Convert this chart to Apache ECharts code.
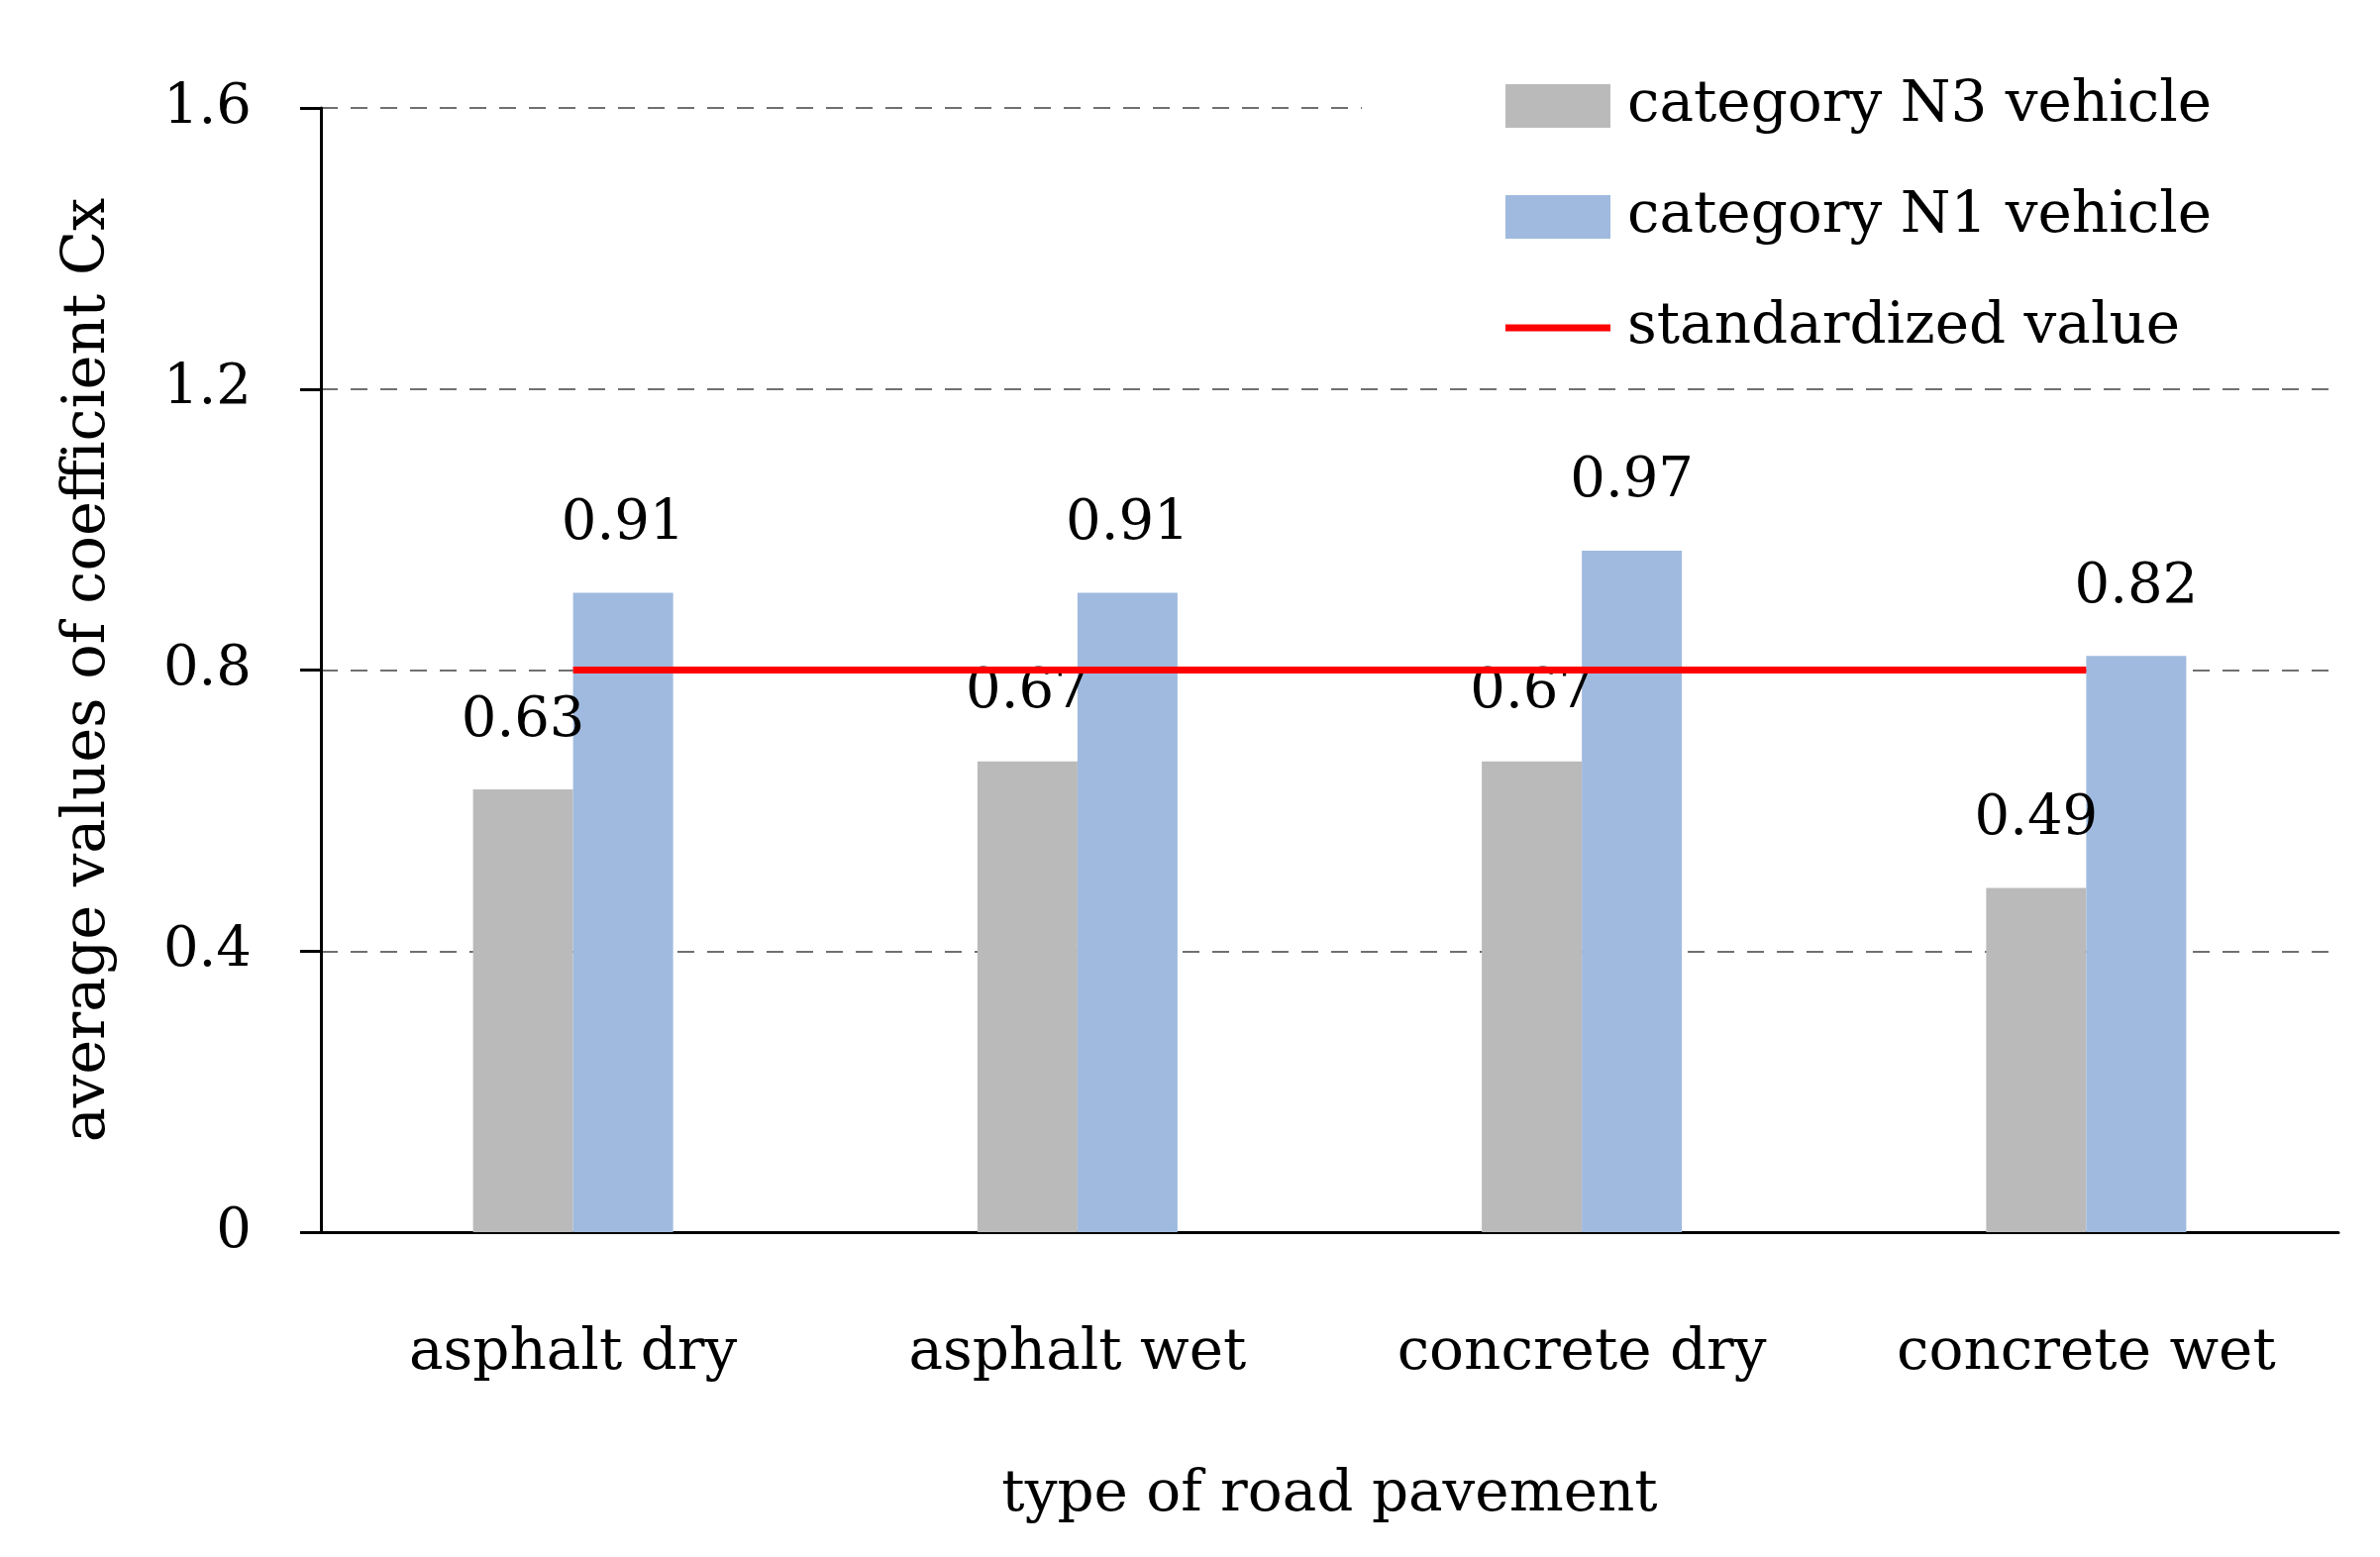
<!DOCTYPE html>
<html>
<head>
<meta charset="utf-8">
<script src="https://cdn.jsdelivr.net/npm/echarts@6/dist/echarts.min.js"></script>
<style>
html,body{margin:0;padding:0;background:#fff;}
#chart{width:2403px;height:1572px;}
</style>
</head>
<body>
<div id="chart"></div>
<script>
const categories = ['asphalt dry', 'asphalt wet', 'concrete dry', 'concrete wet'];
const n3Values = [0.63, 0.67, 0.67, 0.49];
const n1Values = [0.91, 0.91, 0.97, 0.82];
const standardValues = [0.8, 0.8, 0.8, 0.8];
const seriesNames = ['category N3 vehicle', 'category N1 vehicle', 'standardized value'];
const yTicks = { min: 0, max: 1.6, interval: 0.4 };
const xAxisTitle = 'type of road pavement';
const yAxisTitle = 'average values of coefficient Cx';

const FONT = 'DejaVu Serif';
const chart = echarts.init(document.getElementById('chart'), null, { renderer: 'canvas' });

const labelStyle = {
  show: true, position: 'top', distance: 41,
  color: '#000', fontFamily: FONT, fontSize: 56,
  formatter: p => p.value.toFixed(2)
};

chart.setOption({
  animation: false,
  backgroundColor: '#fff',
  grid: { left: 324, right: 42, top: 109, bottom: 328, containLabel: false },
  legend: {
    orient: 'vertical',
    left: 1375, top: 66,
    padding: [12, 140, 12, 145],
    backgroundColor: '#fff',
    itemWidth: 106, itemHeight: 44, itemGap: 54,
    symbolKeepAspect: true,
    textStyle: { fontFamily: FONT, fontSize: 58, color: '#000', padding: [0, 0, 0, 12] },
    data: [
      { name: seriesNames[0], icon: 'rect' },
      { name: seriesNames[1], icon: 'rect' },
      { name: seriesNames[2], icon: 'path://M0,0 L106,0 L106,7 L0,7 Z' }
    ],
    z: 20
  },
  xAxis: {
    type: 'category',
    data: categories,
    name: xAxisTitle,
    nameLocation: 'middle',
    nameGap: 237,
    nameTextStyle: { fontFamily: FONT, fontSize: 58, color: '#000' },
    axisLine: { show: true, lineStyle: { color: '#000', width: 3 } },
    axisTick: { show: false },
    axisLabel: { margin: 94, fontFamily: FONT, fontSize: 58, color: '#000' },
    splitLine: { show: false }
  },
  yAxis: {
    type: 'value',
    min: yTicks.min, max: yTicks.max, interval: yTicks.interval,
    name: yAxisTitle,
    nameLocation: 'middle',
    nameGap: 205,
    nameTextStyle: { fontFamily: FONT, fontSize: 59, color: '#000' },
    axisLine: { show: true, lineStyle: { color: '#000', width: 3 } },
    axisTick: { show: true, length: 21, lineStyle: { color: '#000', width: 3 } },
    axisLabel: { margin: 70, fontFamily: FONT, fontSize: 56, color: '#000' },
    splitLine: { show: true, lineStyle: { color: '#707070', width: 2, type: [17, 13] } }
  },
  series: [
    {
      name: seriesNames[0], type: 'bar', data: n3Values,
      barWidth: 101, barGap: '0%',
      itemStyle: { color: '#BABABA' },
      label: labelStyle, z: 2
    },
    {
      name: seriesNames[1], type: 'bar', data: n1Values,
      barWidth: 101, barGap: '0%',
      itemStyle: { color: '#A0BADF' },
      label: labelStyle, z: 2
    },
    {
      name: seriesNames[2], type: 'line', data: standardValues,
      symbol: 'none',
      lineStyle: { color: '#FF0000', width: 7 },
      itemStyle: { color: '#FF0000' },
      z: 10
    }
  ]
});
</script>
</body>
</html>
